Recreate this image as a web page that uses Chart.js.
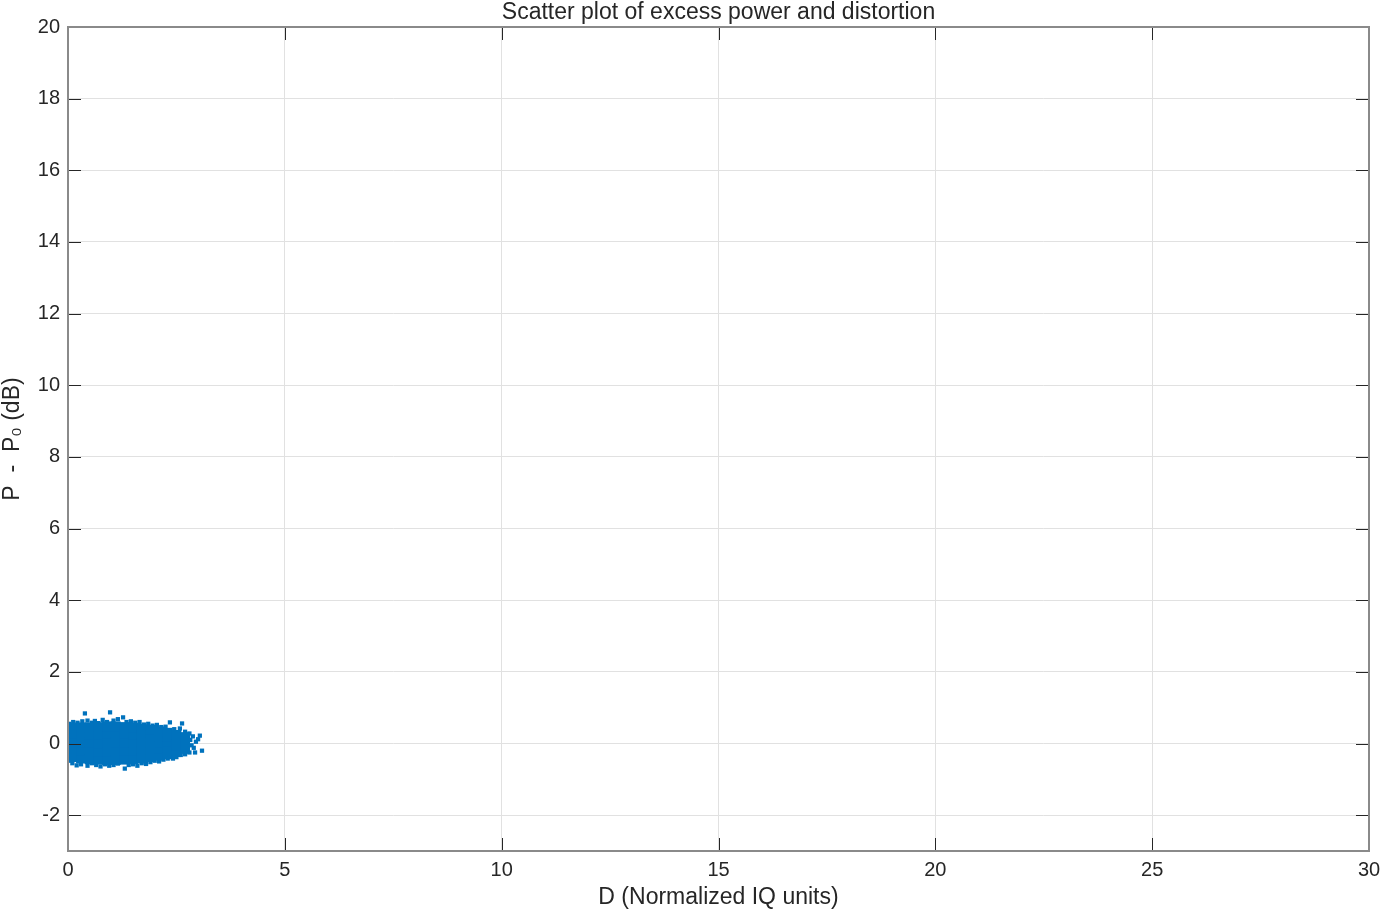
<!DOCTYPE html>
<html>
<head>
<meta charset="utf-8">
<script src="https://cdn.jsdelivr.net/npm/chart.js@4/dist/chart.umd.min.js"></script>
<style>
html,body{margin:0;padding:0;background:#fff;}
#wrap{width:1383px;height:912px;}
</style>
</head>
<body>
<div id="wrap"><canvas id="c" width="1383" height="912"></canvas></div>
<script>
// ---- data ----
const chartTitle = 'Scatter plot of excess power and distortion';
const xTitle = 'D (Normalized IQ units)';
const yTitle = 'P  -  P\u2080 (dB)';
const xTicks = [0, 5, 10, 15, 20, 25, 30];
const yTicks = [-2, 0, 2, 4, 6, 8, 10, 12, 14, 16, 18, 20];
const xRange = [0, 30];
const yRange = [-3, 20];

// dense centre of the cloud [D, P-P0]
const denseCore = [
  [0.1,-0.38],[0.1,-0.16],[0.1,0.06],[0.1,0.27],[0.1,0.45],
  [0.3,-0.42],[0.3,-0.2],[0.3,0.02],[0.3,0.24],[0.3,0.45],
  [0.5,-0.44],[0.5,-0.21],[0.5,0.02],[0.5,0.25],[0.5,0.45],
  [0.7,-0.45],[0.7,-0.22],[0.7,0.01],[0.7,0.25],[0.7,0.46],
  [0.9,-0.46],[0.9,-0.22],[0.9,0.03],[0.9,0.27],[0.9,0.48],
  [1.1,-0.46],[1.1,-0.21],[1.1,0.04],[1.1,0.28],[1.1,0.48],
  [1.3,-0.45],[1.3,-0.2],[1.3,0.04],[1.3,0.27],[1.3,0.46],
  [1.5,-0.44],[1.5,-0.2],[1.5,0.03],[1.5,0.25],[1.5,0.44],
  [1.7,-0.42],[1.7,-0.19],[1.7,0.03],[1.7,0.24],[1.7,0.41],
  [1.9,-0.38],[1.9,-0.17],[1.9,0.03],[1.9,0.22],[1.9,0.38],
  [2.1,-0.34],[2.1,-0.14],[2.1,0.04],[2.1,0.2],[2.1,0.34],
  [2.3,-0.3],[2.3,-0.11],[2.3,0.05],[2.3,0.19],[2.3,0.3],
  [2.5,-0.24],[2.5,-0.06],[2.5,0.1],[2.5,0.24],
  [2.7,-0.15],[2.7,0.03],[2.7,0.18]
];

// sparse fringe and outliers of the cloud [D, P-P0]
const fringe = [
  [0.02,0.55],[0.02,0.3],[0.02,0.0],[0.03,-0.3],[0.05,-0.48],
  [0.12,0.6],[0.22,0.58],[0.2,-0.61],[0.39,0.84],[0.33,0.62],
  [0.45,0.64],[0.55,0.58],[0.62,0.63],[0.7,0.57],[0.8,0.66],
  [0.9,0.6],[0.97,0.87],[1.05,0.64],[1.15,0.68],[1.27,0.73],
  [1.35,0.6],[1.45,0.62],[1.55,0.58],[1.65,0.6],[1.75,0.53],
  [1.85,0.55],[1.95,0.5],[2.05,0.52],[2.15,0.46],[2.25,0.47],
  [2.35,0.59],[2.45,0.4],[2.58,0.42],[2.63,0.56],[2.7,0.33],
  [2.8,0.28],[2.88,0.2],[3.04,0.22],[3.0,0.12],
  [0.1,-0.55],[0.3,-0.58],[0.45,-0.62],[0.55,-0.55],[0.65,-0.6],
  [0.75,-0.64],[0.85,-0.58],[0.95,-0.62],[1.05,-0.6],[1.15,-0.56],
  [1.31,-0.7],[1.4,-0.6],[1.5,-0.58],[1.6,-0.62],[1.7,-0.55],
  [1.8,-0.57],[1.9,-0.52],[2.0,-0.48],[2.1,-0.5],[2.2,-0.45],
  [2.3,-0.42],[2.42,-0.42],[2.5,-0.38],[2.6,-0.32],[2.7,-0.3],
  [2.8,-0.25],[2.93,-0.25],[3.09,-0.2],[2.9,-0.12],[2.95,0.05],
  [2.85,-0.05],[2.82,0.1]
];

const markerColor = '#0072BD';
const boxColor = '#8a8a8a';
const tickColor = '#262626';
const gridColor = '#e1e1e1';
const fontFamily = '"Liberation Sans", Arial, Helvetica, sans-serif';

const toPts = arr => arr.map(p => ({x: p[0], y: p[1]}));

// box + inward ticks (MATLAB style)
const boxPlugin = {
  id: 'boxTicks',
  afterDatasetsDraw(chart) {
    const {ctx, chartArea: a, scales} = chart;
    const L = 13;
    ctx.save();
    ctx.strokeStyle = tickColor;
    ctx.lineWidth = 1;
    ctx.beginPath();
    xTicks.forEach(v => {
      const px = Math.round(scales.x.getPixelForValue(v)) + 0.5;
      ctx.moveTo(px, a.bottom); ctx.lineTo(px, a.bottom - L);
      ctx.moveTo(px, a.top); ctx.lineTo(px, a.top + L);
    });
    yTicks.forEach(v => {
      const py = Math.round(scales.y.getPixelForValue(v)) + 0.5;
      ctx.moveTo(a.left, py); ctx.lineTo(a.left + L, py);
      ctx.moveTo(a.right, py); ctx.lineTo(a.right - L, py);
    });
    ctx.stroke();
    ctx.strokeStyle = boxColor;
    ctx.lineWidth = 2;
    ctx.strokeRect(a.left, a.top, a.right - a.left, a.bottom - a.top);
    ctx.restore();
  }
};

new Chart(document.getElementById('c'), {
  type: 'scatter',
  data: {
    datasets: [
      {data: toPts(denseCore), pointStyle: 'rect', pointRadius: 7, backgroundColor: markerColor, borderColor: markerColor, borderWidth: 0},
      {data: toPts(fringe), pointStyle: 'rect', pointRadius: 3, backgroundColor: markerColor, borderColor: markerColor, borderWidth: 0}
    ]
  },
  options: {
    responsive: false,
    animation: false,
    events: [],
    layout: {padding: {left: 0, right: 14, top: 0, bottom: 0}},
    plugins: {
      legend: {display: false},
      tooltip: {enabled: false},
      title: {
        display: true, fullSize: false, text: chartTitle, color: '#262626',
        font: {family: fontFamily, size: 23, weight: 'normal', lineHeight: 1.1},
        padding: {top: 0, bottom: 1.7}
      }
    },
    scales: {
      x: {
        type: 'linear', min: xRange[0], max: xRange[1],
        afterBuildTicks: s => { s.ticks = xTicks.map(v => ({value: v})); },
        afterFit: s => { s.height = 61; s.paddingLeft = 0; s.paddingRight = 0; },
        grid: {color: gridColor, drawTicks: false, lineWidth: 1},
        border: {display: false},
        ticks: {color: '#262626', font: {family: fontFamily, size: 20}, padding: 7, maxRotation: 0, autoSkip: false},
        title: {display: true, text: xTitle, color: '#262626', font: {family: fontFamily, size: 23, lineHeight: 1.1}, padding: {top: 0, bottom: 2}}
      },
      y: {
        type: 'linear', min: yRange[0], max: yRange[1],
        afterBuildTicks: s => { s.ticks = yTicks.map(v => ({value: v})); },
        afterFit: s => { s.width = 68; s.paddingTop = 0; s.paddingBottom = 0; },
        grid: {color: gridColor, drawTicks: false, lineWidth: 1},
        border: {display: false},
        ticks: {color: '#262626', font: {family: fontFamily, size: 20}, padding: 8, autoSkip: false},
        title: {display: true, text: yTitle, color: '#262626', font: {family: fontFamily, size: 23, lineHeight: 1.1}, padding: {top: 0, bottom: 0}}
      }
    }
  },
  plugins: [boxPlugin]
});
</script>
</body>
</html>
